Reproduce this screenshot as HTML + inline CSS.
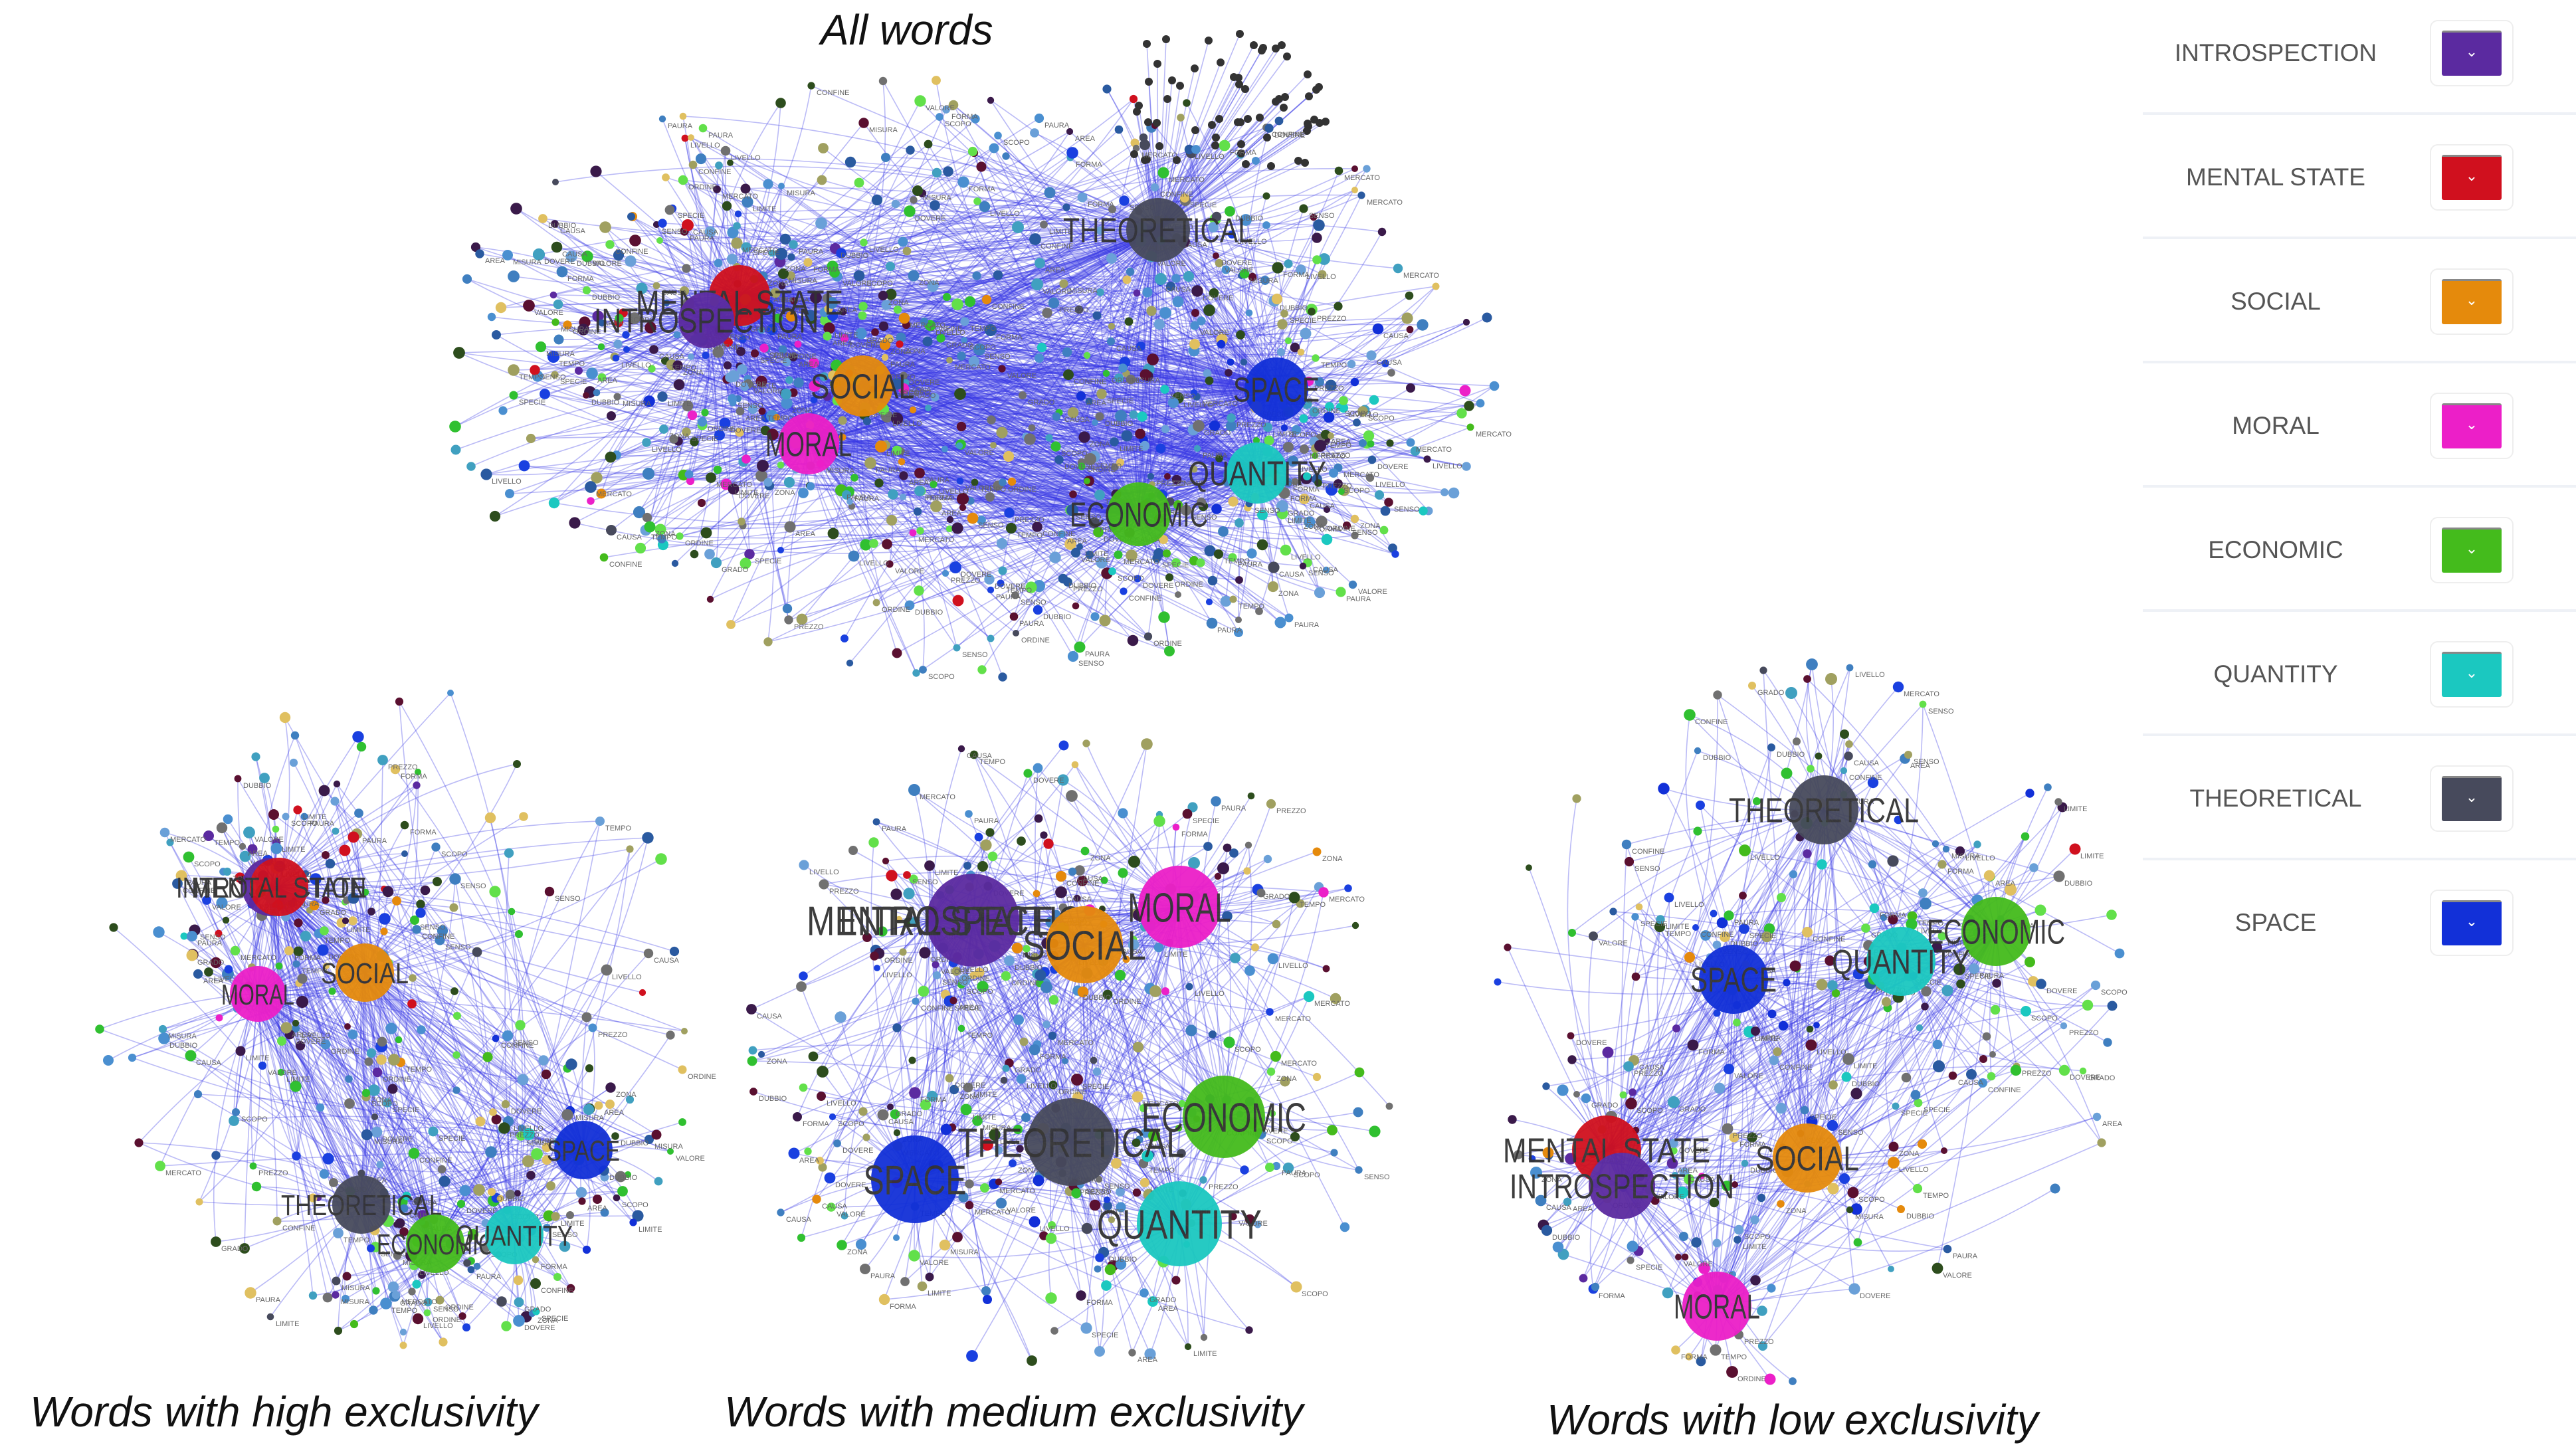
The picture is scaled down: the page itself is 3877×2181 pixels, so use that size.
<!DOCTYPE html>
<html><head><meta charset="utf-8">
<style>
html,body{margin:0;padding:0;background:#fff;}
body{width:3877px;height:2181px;overflow:hidden;position:relative;font-family:"Liberation Sans",sans-serif;}
svg{position:absolute;left:0;top:0;}
.cap{position:absolute;font-style:italic;font-size:64px;color:#111;white-space:nowrap;}
.leg{position:absolute;left:3225px;width:652px;height:187px;}
.leg .t{position:absolute;left:0;width:400px;text-align:center;top:50%;transform:translateY(-50%);font-size:37px;color:#555;}
.leg .b{position:absolute;left:432px;top:50%;margin-top:-50px;width:126px;height:100px;border:2px solid #eee;border-radius:12px;box-sizing:border-box;}
.leg .s{position:absolute;left:16px;top:14px;width:90px;height:68px;border-top:3px solid #888;border-radius:3px;box-sizing:border-box;color:#fff;text-align:center;line-height:58px;font-size:22px;}
.leg .l{position:absolute;left:0;right:0;bottom:0;height:4px;background:#eef1f6;}
</style></head><body>
<svg id="g" width="3877" height="2181" viewBox="0 0 3877 2181"></svg>
<div class="cap" style="left:1235px;top:8px;">All words</div>
<div class="cap" style="left:45px;top:2088px;">Words with high exclusivity</div>
<div class="cap" style="left:1090px;top:2088px;">Words with medium exclusivity</div>
<div class="cap" style="left:2328px;top:2100px;">Words with low exclusivity</div>

<div class="leg" style="top:-14px"><div class="t">INTROSPECTION</div><div class="b"><div class="s" style="background:#5b2aa0">&#8964;</div></div><div class="l"></div></div>
<div class="leg" style="top:173px"><div class="t">MENTAL STATE</div><div class="b"><div class="s" style="background:#d0101e">&#8964;</div></div><div class="l"></div></div>
<div class="leg" style="top:360px"><div class="t">SOCIAL</div><div class="b"><div class="s" style="background:#e58a0c">&#8964;</div></div><div class="l"></div></div>
<div class="leg" style="top:547px"><div class="t">MORAL</div><div class="b"><div class="s" style="background:#ec1fc8">&#8964;</div></div><div class="l"></div></div>
<div class="leg" style="top:734px"><div class="t">ECONOMIC</div><div class="b"><div class="s" style="background:#44bb1c">&#8964;</div></div><div class="l"></div></div>
<div class="leg" style="top:921px"><div class="t">QUANTITY</div><div class="b"><div class="s" style="background:#1bc8c0">&#8964;</div></div><div class="l"></div></div>
<div class="leg" style="top:1108px"><div class="t">THEORETICAL</div><div class="b"><div class="s" style="background:#474a5c">&#8964;</div></div><div class="l"></div></div>
<div class="leg" style="top:1295px"><div class="t">SPACE</div><div class="b"><div class="s" style="background:#1230d8">&#8964;</div></div><div class="l" style="display:none"></div></div>

<script>
(function(){
var s=1234567;function R(){s|=0;s=s+0x6D2B79F5|0;var t=Math.imul(s^s>>>15,1|s);t=t+Math.imul(t^t>>>7,61|t)^t;return((t^t>>>14)>>>0)/4294967296;}
function G(){return (R()+R()+R()-1.5)/0.87;}
var C={I:'#5b2aa0',M:'#d0101e',S:'#e58a0c',O:'#ec1fc8',E:'#44bb1c',Q:'#1bc8c0',T:'#474a5c',P:'#1230d8'};
var N={I:'INTROSPECTION',M:'MENTAL STATE',S:'SOCIAL',O:'MORAL',E:'ECONOMIC',Q:'QUANTITY',T:'THEORETICAL',P:'SPACE'};
var leafCols=['#4a8fd0','#3f7fc0','#62e04a','#3a1a4a','#2d4d1d','#5a1030','#6aa0d8','#2a5aa0','#a0a060','#40a0c0','#1a40e0','#707070','#e0c060','#30c030'];
var words=['SPECIE','MISURA','VALORE','SENSO','ORDINE','FORMA','LIMITE','TEMPO','CAUSA','GRADO','SCOPO','DOVERE','PAURA','DUBBIO','MERCATO','PREZZO','LIVELLO','CONFINE','AREA','ZONA'];
var svg=document.getElementById('g');var E=[],L=[],H=[],T=[];
function graph(hubs,n,cx,cy,rx,ry,fs,lr,maxk){
  for(var i=0;i<n;i++){
    var h=hubs[Math.floor(R()*hubs.length)];var x,y;
    if(R()<0.35){var a=R()*6.283,d=Math.sqrt(R());x=cx+Math.cos(a)*rx*d;y=cy+Math.sin(a)*ry*d;}
    else{x=h.x+G()*rx*0.35;y=h.y+G()*ry*0.35;}
    var dx=(x-cx)/rx,dy=(y-cy)/ry,dd=Math.sqrt(dx*dx+dy*dy);if(dd>1){x=cx+(x-cx)/dd;y=cy+(y-cy)/dd;}
    var k=1+Math.floor(R()*maxk);var used={};
    for(var j=0;j<k;j++){var hh=j==0?h:hubs[Math.floor(R()*hubs.length)];if(used[hh.k])continue;used[hh.k]=1;
      var mx=(x+hh.x)/2+(R()-0.5)*0.3*(hh.y-y),my=(y+hh.y)/2+(R()-0.5)*0.3*(x-hh.x);
      E.push('<path d="M'+x.toFixed(0)+' '+y.toFixed(0)+'Q'+mx.toFixed(0)+' '+my.toFixed(0)+' '+hh.x+' '+hh.y+'"/>');}
    var c=R()<0.12?C[h.k]:leafCols[Math.floor(R()*leafCols.length)];
    L.push('<circle cx="'+x.toFixed(0)+'" cy="'+y.toFixed(0)+'" r="'+(lr*(0.7+R()*0.6)).toFixed(1)+'" fill="'+c+'"/>');
    if(R()<0.35)T.push('<text x="'+(x+8).toFixed(0)+'" y="'+(y+14).toFixed(0)+'">'+words[Math.floor(R()*words.length)]+'</text>');
  }
  hubs.forEach(function(h){H.push('<circle cx="'+h.x+'" cy="'+h.y+'" r="'+h.r+'" fill="'+C[h.k]+'"/>');
    var t=N[h.k];var f=h.f||fs;
    H.push('<text x="'+(h.lx||h.x)+'" y="'+((h.ly||h.y)+f*0.36)+'" font-size="'+f+'" text-anchor="middle" textLength="'+(t.length*f*0.5).toFixed(0)+'" lengthAdjust="spacingAndGlyphs" fill="#333">'+t+'</text>');});
}
graph([{k:'T',x:1743,y:346,r:48},{k:'M',x:1113,y:445,r:46,ly:455},{k:'I',x:1063,y:482,r:42,ly:482},{k:'S',x:1298,y:581,r:46},{k:'O',x:1217,y:668,r:46},{k:'P',x:1921,y:586,r:48},{k:'Q',x:1892,y:712,r:46},{k:'E',x:1714,y:774,r:48}],900,1450,560,800,470,52,7,4);
for(var i=0;i<60;i++){var x=1700+R()*300,y=50+R()*200;E.push('<path d="M'+x.toFixed(0)+' '+y.toFixed(0)+'L1743 346"/>');L.push('<circle cx="'+x.toFixed(0)+'" cy="'+y.toFixed(0)+'" r="6" fill="#333"/>');}
graph([{k:'I',x:408,y:1335,r:44},{k:'M',x:420,y:1335,r:44,lx:420,ly:1335},{k:'S',x:549,y:1464,r:44},{k:'O',x:388,y:1496,r:42},{k:'P',x:878,y:1731,r:44},{k:'T',x:544,y:1813,r:44},{k:'E',x:655,y:1872,r:44},{k:'Q',x:774,y:1859,r:44}],380,600,1530,450,500,44,7,3);
graph([{k:'I',x:1464,y:1385,r:70,f:62},{k:'M',x:1400,y:1385,r:0,f:62},{k:'S',x:1632,y:1422,r:58},{k:'O',x:1775,y:1365,r:62},{k:'T',x:1612,y:1719,r:66},{k:'E',x:1842,y:1681,r:62},{k:'P',x:1377,y:1775,r:66},{k:'Q',x:1775,y:1842,r:64}],380,1610,1590,500,490,62,7,3);
graph([{k:'T',x:2745,y:1219,r:52},{k:'E',x:3004,y:1402,r:52},{k:'Q',x:2861,y:1447,r:52},{k:'P',x:2609,y:1474,r:52},{k:'S',x:2720,y:1743,r:52},{k:'M',x:2418,y:1731,r:52},{k:'I',x:2441,y:1785,r:50},{k:'O',x:2584,y:1966,r:52}],300,2720,1540,480,540,52,7,3);
svg.innerHTML='<g fill="none" stroke="#3838e6" stroke-width="1.6" stroke-opacity="0.34">'+E.join('')+'</g><g>'+L.join('')+'</g><g font-size="11" fill="#666">'+T.join('')+'</g><g opacity="0.95">'+H.join('')+'</g>';
})();
</script>
</body></html>
